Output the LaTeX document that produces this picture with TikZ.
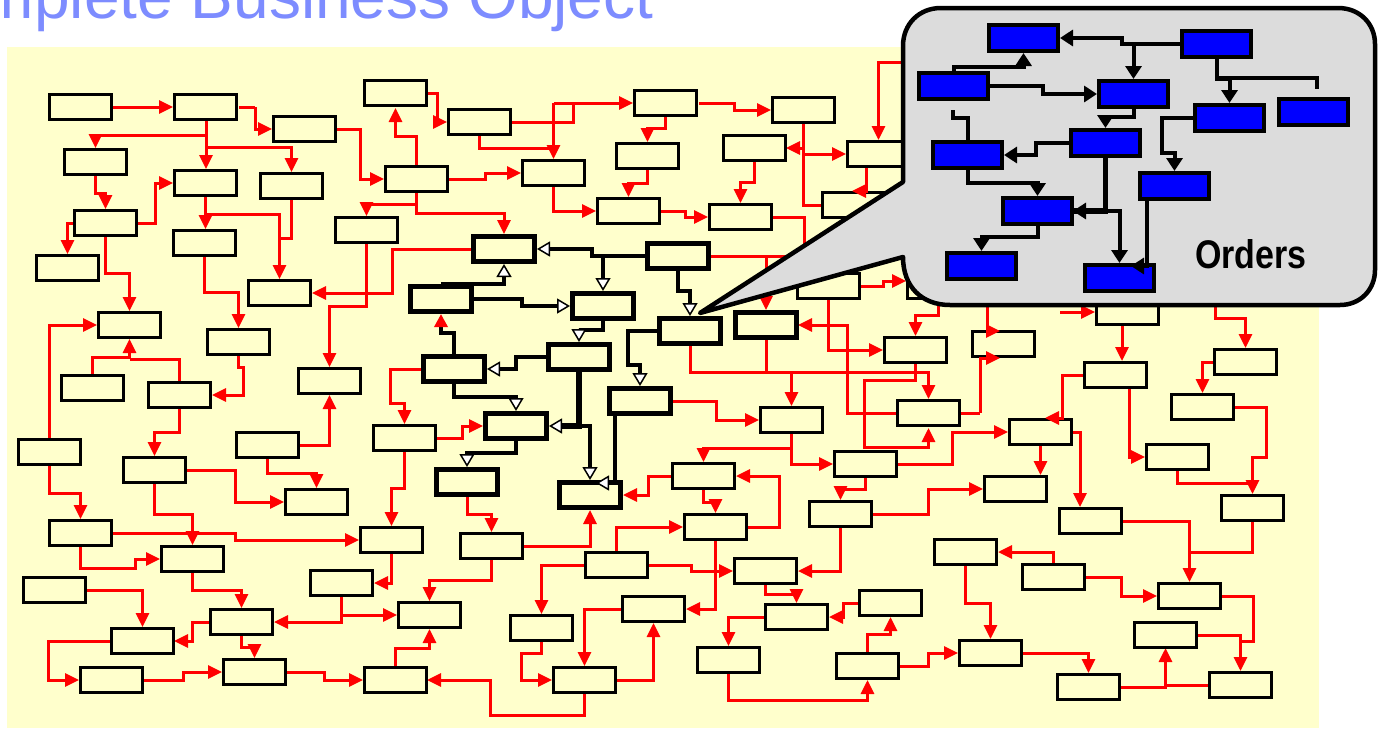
\documentclass[tikz,border=0pt]{standalone}
\usepackage{fontspec}
\usepackage{graphicx}
\setmainfont{Liberation Sans}
\usetikzlibrary{arrows.meta}
\definecolor{bgy}{RGB}{255,255,204}
\definecolor{titleblue}{RGB}{125,140,255}
\definecolor{cgray}{RGB}{220,220,220}
\begin{document}
\begin{tikzpicture}[x=1pt,y=-1pt,
  rbox/.style={draw=black, fill=bgy, line width=3pt, minimum width=62pt, minimum height=25pt, inner sep=0pt, anchor=north west},
  tbox/.style={draw=black, fill=bgy, line width=5pt, minimum width=61pt, minimum height=25pt, inner sep=0pt, anchor=north west},
  bbox/.style={draw=black, fill=blue, line width=4pt, minimum width=69pt, minimum height=26pt, inner sep=0pt, anchor=north west},
  rarr/.style={draw=red, line width=3pt, -{Triangle[length=14pt,width=13pt]}},
  rline/.style={draw=red, line width=3pt},
  karr/.style={draw=black, line width=4pt, -{Triangle[length=13pt,width=15pt,fill=white,line width=1.5pt]}},
  kthick/.style={draw=black, line width=6.5pt, -{Triangle[length=13pt,width=15pt,fill=white,line width=1.5pt]}},
  kred/.style={draw=black, line width=4pt, -{Triangle[length=13pt,width=13pt,color=red,fill=red]}},
  barr/.style={draw=black, line width=4pt, -{Triangle[length=13pt,width=16pt]}},
  bline/.style={draw=black, line width=4pt},
  bthick/.style={draw=black, line width=5.5pt},
]
\useasboundingbox (0,0) rectangle (1378,728);
\clip (0,0) rectangle (1378,728);
\fill[white] (0,0) rectangle (1378,728);
\node[anchor=base west, inner sep=0pt, text=titleblue, font=\fontsize{64}{70}\selectfont] (title) at (-101,18) {Complete Business Object};
\fill[bgy] (7,47) rectangle (1319,728);

% ---------- red connectors ----------
\draw[rarr] (112,107) -- (173,107);
\draw[rarr] (255,107) -- (255,129) -- (272,129);
\draw[rline] (239,107) -- (255,107);
\draw[rarr] (206,121) -- (206,169);
\draw[rarr] (206,135) -| (95.5,148);
\draw[rarr] (206,147) -| (291.5,172);
\draw[rarr] (336,129) -- (360,129) |- (384,179);
\draw[rarr] (416.5,165) -- (416.5,136) -| (395.5,108);
\draw[rarr] (428,93) -- (437,93) |- (447,122);
\draw[rarr] (416.5,193) -- (416.5,213) -| (504,234);
\draw[rarr] (416.5,204) -| (366.5,216);
\draw[rarr] (95.5,176) -- (95.5,193) -| (105.5,209);
\draw[rarr] (137,223) -- (155,223) |- (173,183);
\draw[rarr] (73,223) -| (67.5,254);
\draw[rarr] (205.5,197) -- (205.5,229);
\draw[rarr] (205.5,214) -| (279.5,279);
\draw[rline] (291.5,200) |- (279.5,238);
\draw[rarr] (105.5,237) -- (105.5,273) -| (129.5,311);
\draw[rarr] (204.5,257) -- (204.5,292) -| (238.5,328);
\draw[rarr] (92.5,374) -- (92.5,357) -| (129.5,339);
\draw[rline] (179.5,381) |- (129.5,359);
\draw[rarr] (49.5,438) |- (97,325);
\draw[rarr] (238.5,356) -- (238.5,367) -- (243,367) |- (212,395);
\draw[rarr] (179.5,409) -- (179.5,432) -| (154.5,456);
\draw[rarr] (366.5,244) -- (366.5,306) -| (329.5,367);
\draw[rarr] (471,249) -- (392,249) |- (312,293);
\draw[rarr] (299,445) -| (329.5,395);
\draw[rarr] (267.5,459) -- (267.5,473) -| (316.5,488);
\draw[rarr] (421,369) -- (390,369) -- (390,403) -| (404.5,424);
\draw[rarr] (437,438) -- (462,438) |- (483,426);
\draw[rarr] (404.5,452) -- (404.5,488) -| (391.5,526);
\draw[rarr] (49.5,466) -- (49.5,493) -| (80.5,519);
\draw[rarr] (154.5,484) -- (154.5,514) -| (192.5,545);
\draw[rarr] (187,470) -- (235,470) |- (284,502);
\draw[rarr] (112,533) -- (235,533) -- (235,540) -- (359,540);
\draw[rarr] (80.5,547) -- (80.5,568) -- (135,568) |- (160,559);
\draw[rarr] (391.5,554) |- (374,583);
\draw[rarr] (192.5,573) -- (192.5,590) -| (241.5,608);
\draw[rarr] (87,590) -| (142.5,627);
\draw[rarr] (341.5,597) |- (274,622);
\draw[rarr] (341.5,615) -- (397,615);
\draw[rarr] (209,622) -- (192,622) |- (174,641);
\draw[rarr] (110,641) -- (48,641) |- (79,680);
\draw[rarr] (241.5,636) -- (241.5,647) -| (254.5,658);
\draw[rarr] (144,680) -- (183,680) |- (222,672);
\draw[rarr] (287,672) -- (324,672) |- (363,680);
\draw[rarr] (395.5,666) -- (395.5,648) -| (429.5,629);
\draw[rarr] (584.5,694) -- (584.5,715) -- (490,715) |- (427,680);
\draw[rarr] (491.5,560) -- (491.5,580) -| (429.5,601);
\draw[rarr] (467,497) -- (467,514) -| (491.5,532);
\draw[rarr] (523,546) -| (590,510);
\draw[rarr] (671,476) -- (648,476) |- (623,495);
\draw[rarr] (703.5,490) -- (703.5,502) -| (715.5,513);
\draw[rarr] (748,527) -- (779,527) |- (736,476);
\draw[rarr] (616.5,551) |- (683,527);
\draw[rarr] (648,565) -- (691,565) |- (733,571);
\draw[rarr] (715.5,541) |- (686,609);
\draw[rarr] (584,565) -| (541.5,614);
\draw[rarr] (541.5,642) -- (541.5,653) -- (521,653) |- (552,680);
\draw[rarr] (621,609) -| (584.5,666);
\draw[rarr] (617,680) -| (653.5,623);
\draw[rarr] (840.5,528) |- (798,571);
\draw[rarr] (865.5,478) -- (865.5,489) -| (840.5,500);
\draw[rarr] (873,514) -- (928,514) |- (983,489);
\draw[rarr] (765.5,585) -- (765.5,594) -| (796.5,603);
\draw[rarr] (858,603) -- (843,603) |- (829,617);
\draw[rarr] (764,617) -| (728.5,646);
\draw[rarr] (728.5,674) -- (728.5,700) -| (867.5,680);
\draw[rarr] (867.5,652) -- (867.5,634) -| (890.5,617);
\draw[rarr] (1053.5,563) |- (998,552);
\draw[rarr] (965.5,566) -- (965.5,603) -| (990.5,639);
\draw[rarr] (1085,577) -- (1121,577) |- (1157,596);
\draw[rarr] (1123,521) -| (1189.5,582);
\draw[rline] (1252.5,522) |- (1189.5,552);
\draw[rline] (1222,596) -- (1253,596) |- (1240.5,641);
\draw[rarr] (1197,635) -| (1240.5,671);
\draw[rarr] (1023,653) -| (1088.5,673);
\draw[rarr] (1121,687) -| (1165.5,648);
\draw[rline] (1208,685) -- (1165.5,685);
\draw[rarr] (900,666) -- (928,666) |- (958,653);
\draw[rarr] (898,464) -- (952,464) |- (1008,432);
\draw[rarr] (791.5,434) |- (833,464);
\draw[rarr] (791.5,448) -| (703.5,462);
\draw[rarr] (673,401) -- (716,401) |- (759,420);
\draw[rline] (690,346) |- (915.5,372);
\draw[rline] (766,340) -- (766,372);
\draw[rarr] (791.5,372) -- (791.5,406);
\draw[rarr] (915.5,364) -- (915.5,372) -| (928.5,399);
\draw[rarr] (915.5,364) -- (915.5,380) -- (864,380) -- (864,447) -| (928.5,428);
\draw[rarr] (896,413) -- (847,413) |- (798,325);
\draw[rarr] (828.5,300) |- (883,350);
\draw[rarr] (860,286) -- (883,286) -- (883,281) -- (906,281);
\draw[rarr] (938.5,300) -- (938.5,315) -| (915.5,336);
\draw[rarr] (1060,312) -- (1095,312);
\draw[rarr] (1122,326) -- (1122,361);
\draw[rarr] (1129,389) |- (1145,457);
\draw[rarr] (1215,300) -- (1215,318) -- (1245.5,318) -- (1245.5,348);
\draw[rarr] (1213,362) -| (1202.5,393);
\draw[rarr] (1235,407) -- (1266,407) |- (1252.5,457) -- (1252.5,494);
\draw[rline] (1177.5,471) -- (1177.5,483) -- (1252.5,483);
\draw[rarr] (1040.5,446) -- (1040.5,475);
\draw[rarr] (1073,432) -- (1080,432) -- (1080,507);
\draw[rline] (803.5,124) |- (821,205);
\draw[rarr] (803.5,148) -- (786,148);
\draw[rarr] (803.5,154) -- (846,154);
\draw[rarr] (905,62) -- (878.5,62) -- (878.5,140);
\draw[rarr] (754.5,162) -- (754.5,182) -| (740.5,203);
\draw[rline] (773,217) -- (804,217) -- (804,256);
\draw[rline] (710,256) -- (804,256);
\draw[rarr] (766,256) -- (766,310);
\draw[rarr] (661,211) -- (685,211) |- (708,217);
\draw[rarr] (647.5,170) -- (647.5,183) -| (628.5,197);
\draw[rarr] (665.5,117) -- (665.5,128) -| (647.5,142);
\draw[rarr] (699,103) -- (734,103) |- (771,110);
\draw[rarr] (553.5,187) |- (596,211);
\draw[rarr] (449,179) -- (485,179) |- (521,173);
\draw[rarr] (511,122) -- (573,122) |- (633,103);
\draw[rarr] (553.5,103) -- (553.5,159);
\draw[rline] (553.5,103) -- (573,103);
\draw[rline] (479.5,136) |- (553.5,148);

% ---------- regular boxes ----------
\foreach \n/\x/\y in {R1/48/93,R2/173/93,R3/272/115,R4/63/148,R5/173/169,R6/259/172,R7/363/79,R8/447/108,R9/384/165,R10/73/209,R11/172/229,R12/334/216,R13/633/89,R14/771/96,R15/615/142,R16/722/134,R17/521/159,R18/596/197,R19/708/203,R20/846/140,R21/821/191,R25/796/272,R27/883/336,R28/971/330,R29/1095/298,R30/1083/361,R31/1213/348,R32/1170/393,R35/896/399,R38/1008/418,R39/1145/443,R40/983/475,R41/1220/494,R42/1058/507,R43/833/450,R44/933/538,R45/1021/563,R46/1157/582,R47/1133/621,R48/958/639,R49/1056/673,R50/1208/671,R51/858/589,R52/835/652,R54/671/462,R55/683/513,R57/808/500,R58/459/532,R59/584/551,R60/733/557,R62/621/595,R63/764/603,R64/509/614,R65/696/646,R66/552/666,R68/397/601,R69/48/519,R70/160/545,R71/284/488,R72/359/526,R73/22/576,R74/309/569,R75/209/608,R77/110/627,R78/79/666,R79/222/658,R80/363/666,R81/122/456,R83/35/254,R84/97/311,R85/206/328,R86/247/279,R87/60/374,R88/147/381,R89/297/367,R90/17/438,R91/235/431,R93/372/424,R95/759/406,HB1/906/272}
  \node[rbox] (\n) at (\x,\y) {};

% ---------- thick boxes ----------
\foreach \n/\x/\y in {TB1/471/234,TB2/645/241,TB3/570/291,TB4/408/284,TB5/657/316,TB6/733/310,TB7/546/342,TB8/421/354,TB9/607/386,TB10/483/411,TB11/434/467,TB12/557/480}
  \node[tbox] (\n) at (\x,\y) {};

% sloppy red arrows drawn over boxes
\draw[rarr] (980,413) -- (980,358) -- (1000,358);
\draw[rline] (961,413) -- (980,413);
\draw[rarr] (987,295) -- (987,331) -- (1000,331);
\draw[rarr] (1083,375) -- (1062,375) -- (1062,418) -- (1045,418);
\draw[rarr] (866,168) |- (852,191);

% ---------- black connectors ----------
\draw[karr] (TB2.west) -- (592,256) -- (592,249) -- (TB1.east);
\draw[karr] (603,256) -- (TB3.north);
\draw[karr] (TB2.south) -- (678,291) -| (TB5.north);
\draw[karr] (TB4.north) -| (TB1.south);
\draw[karr] (TB4.east) -- (522,299) -- (522,306) -- (TB3.west);
\draw[karr] (TB3.south) -- (603,330) -| (TB7.north);
\draw[karr] (TB7.west) -- (516,357) |- (TB8.east);
\draw[kred] (TB8.north) -- (454,333) -- (441,333) -- (TB4.south);
\draw[karr] (TB8.south) -- (454,397) -| (TB10.north);
\draw[kthick] (TB7.south) |- (TB10.east);
\draw[karr] (579,426) -- (590,426) -- (TB12.north);
\draw[karr] (TB5.west) -- (628,331) -- (628,365) -| (TB9.north);
\draw[karr] (TB10.south) -- (516,453) -| (TB11.north);
\draw[karr] (615,414) -- (615,483) -- (596,483);

% ---------- callout ----------
\draw[fill=cgray, line width=4.5pt, line join=round]
  (903,182) -- (903,46) .. controls (903,24) and (919,8) .. (941,8)
  -- (1338,8) .. controls (1360,8) and (1375,24) .. (1375,44)
  -- (1375,270) .. controls (1375,290) and (1360,305) .. (1340,305)
  -- (950,305) .. controls (922,305) and (903,287) .. (903,257)
  -- (700,313) -- cycle;

\foreach \n/\x/\y in {B1/987/23,B2/1180/29,B3/917/71,B4/1097/79,B5/1193/103,B6/1277/97,B7/931/140,B8/1069/128,B9/1138/171,B10/1001/196,B11/945/251,B12/1083/263}
  \node[bbox] (\n) at (\x,\y) {};

\draw[barr] (B2.west) -- (1122,44) -- (1122,38) -- (B1.east);
\draw[barr] (1133.5,44) -- (B4.north);
\draw[barr] (B3.north) -- (953.5,67) -| (B1.south);
\draw[barr] (B3.east) -- (1043,86) -- (1043,94) -- (B4.west);
\draw[barr] (B2.south) -- (1216.5,79) -| (B5.north);
\draw[bline] (1216.5,78) -- (1317,78) -- (1317,89);
\draw[barr] (B4.south) -- (1133.5,117) -| (B8.north);
\draw[bline] (953,110) -- (953,118) -- (967.5,118) -- (B7.north);
\draw[barr] (B8.west) -- (1036,143) |- (B7.east);
\draw[barr] (B7.south) -- (967.5,183) -| (B10.north);
\draw[bthick] (B8.south) |- (B10.east);
\draw[barr] (1105.5,211) -- (1073,211);
\draw[barr] (1105.5,211) -| (B12.north);
\draw[barr] (B5.west) -- (1162,118) -- (1162,153) -| (B9.north);
\draw[barr] (B10.south) -- (1037.5,237) -| (B11.north);
\draw[barr] (1147,201) -- (1147,266) -- (1131,266);

\node[font=\bfseries\fontsize{40}{44}\selectfont, inner sep=0pt] (orders) at (1251,254) {\scalebox{0.85}[1]{Orders}};
\end{tikzpicture}
\end{document}
